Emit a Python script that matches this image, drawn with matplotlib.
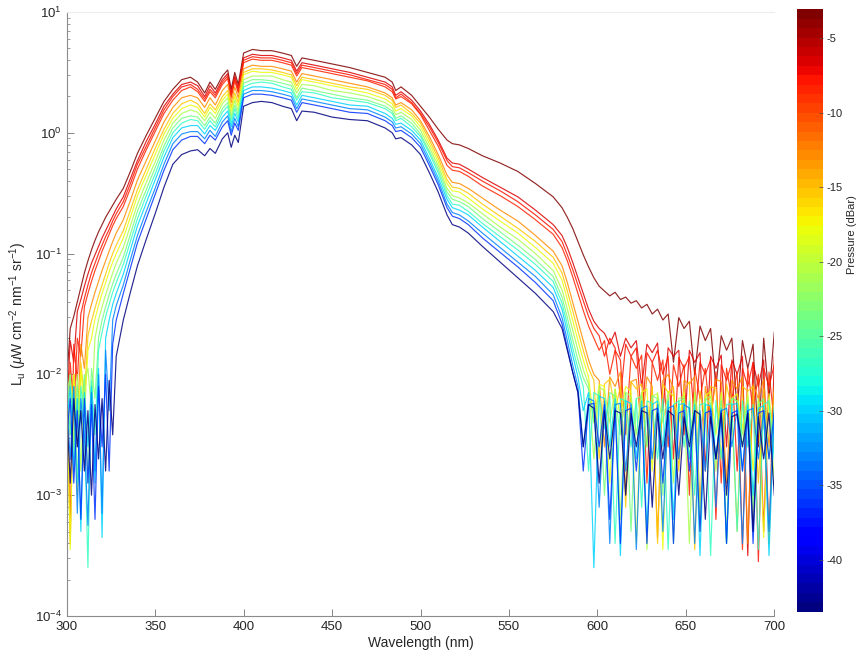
import numpy as np
import matplotlib
matplotlib.use('Agg')
import matplotlib.pyplot as plt
from matplotlib.colors import Normalize
from matplotlib.cm import ScalarMappable

plt.rcParams['font.family'] = ['Liberation Sans', 'DejaVu Sans']
plt.rcParams['mathtext.fontset'] = 'custom'
plt.rcParams['mathtext.rm'] = 'Liberation Sans'
plt.rcParams['mathtext.it'] = 'Liberation Sans:italic'
plt.rcParams['mathtext.bf'] = 'Liberation Sans:bold'
plt.rcParams['axes.unicode_minus'] = False

# ---------------- data (log10 of Lu) ----------------
WL_UV = list(range(300, 329, 2))
WL_VIS = [332, 336, 340, 345, 350, 355, 360, 365, 370, 374, 378, 381, 384, 388, 391, 393, 395, 397,
          400, 405, 410, 416, 422, 427, 430, 433, 440, 450, 460, 470, 480, 484, 486, 489, 495, 500,
          505, 510, 515, 518, 522, 527, 535, 545, 555, 565, 575]
WL_RED = list(range(580, 701, 3))

PRESSURE = [-3.1, -6.5, -7.5, -8.5, -13.0, -15.5, -18.0, -21.0, -23.5, -27.0, -30.0, -33.0, -36.0, -43.5]

lu_c00 = [-2.05, -1.62, -1.52, -1.40, -1.28, -1.16, -1.06, -0.97, -0.89, -0.82, -0.76, -0.70, -0.65, -0.60, -0.55,
          -0.46, -0.32, -0.17, -0.02, 0.12, 0.26, 0.36, 0.44, 0.46, 0.42, 0.33, 0.42, 0.36, 0.47, 0.52, 0.36, 0.50, 0.40,
          0.66, 0.69, 0.68, 0.68, 0.66, 0.64, 0.55, 0.62, 0.60, 0.57, 0.54, 0.50, 0.46, 0.42, 0.35, 0.38, 0.31, 0.22,
          0.13, 0.03, -0.06, -0.09, -0.10, -0.13, -0.19, -0.25, -0.32, -0.42, -0.53,
          -0.62, -0.70, -0.79, -0.90, -1.01, -1.11, -1.20, -1.27, -1.31, -1.35, -1.32, -1.38, -1.36, -1.41, -1.39,
          -1.45, -1.42, -1.50, -1.46, -1.55, -1.50, -1.90, -1.53, -1.62, -1.56, -2.00, -1.60, -1.72, -1.62, -2.10,
          -1.68, -1.80, -1.70, -2.30, -1.72, -1.95, -1.75, -2.60, -1.70, -2.20, -1.65]
lu_c01 = [-2.30, -1.72, -1.90, -1.48, -1.38, -1.27, -1.17, -1.08, -1.01, -0.94, -0.87, -0.81, -0.75, -0.69, -0.63,
          -0.53, -0.38, -0.23, -0.07, 0.07, 0.22, 0.32, 0.40, 0.42, 0.39, 0.30, 0.39, 0.33, 0.44, 0.49, 0.33, 0.47, 0.37,
          0.62, 0.65, 0.64, 0.64, 0.62, 0.60, 0.51, 0.58, 0.56, 0.53, 0.50, 0.46, 0.42, 0.38, 0.31, 0.34, 0.27, 0.18,
          0.07, -0.06, -0.21, -0.25, -0.26, -0.30, -0.37, -0.45, -0.53, -0.64, -0.76,
          -0.85, -0.95, -1.07, -1.20, -1.33, -1.46, -1.56, -1.62, -1.66, -1.75, -1.65, -1.85, -1.70, -1.78, -1.72,
          -2.10, -1.75, -1.82, -1.74, -2.30, -1.78, -1.85, -1.80, -2.50, -1.80, -1.90, -1.82, -2.80, -1.85, -1.95,
          -1.84, -2.60, -1.88, -2.00, -1.85, -3.50, -1.90, -2.10, -1.88, -3.40, -1.85]
lu_c02 = [-1.95, -3.30, -1.75, -2.05, -1.50, -1.37, -1.26, -1.16, -1.08, -1.00, -0.93, -0.86, -0.80, -0.73, -0.67,
          -0.57, -0.42, -0.26, -0.11, 0.04, 0.19, 0.30, 0.38, 0.40, 0.36, 0.28, 0.36, 0.31, 0.42, 0.47, 0.31, 0.45, 0.35,
          0.60, 0.63, 0.62, 0.62, 0.60, 0.58, 0.49, 0.56, 0.54, 0.51, 0.48, 0.44, 0.40, 0.36, 0.29, 0.32, 0.25, 0.16,
          0.05, -0.08, -0.23, -0.28, -0.29, -0.33, -0.40, -0.48, -0.57, -0.68, -0.80,
          -0.90, -1.01, -1.13, -1.26, -1.39, -1.52, -1.62, -1.68, -1.85, -1.70, -1.78, -2.20, -1.75, -1.85, -1.78,
          -2.40, -1.82, -1.90, -1.80, -2.00, -1.85, -2.70, -1.86, -1.95, -1.85, -2.40, -1.90, -2.00, -1.88, -3.20,
          -1.92, -2.05, -1.90, -2.80, -1.95, -2.10, -1.90, -3.55, -1.95, -2.10, -1.92]
lu_c03 = [-2.60, -1.90, -2.30, -1.70, -1.85, -1.44, -1.33, -1.23, -1.14, -1.06, -0.98, -0.91, -0.84, -0.77, -0.71,
          -0.61, -0.46, -0.30, -0.14, 0.01, 0.16, 0.27, 0.35, 0.38, 0.34, 0.26, 0.34, 0.29, 0.40, 0.45, 0.29, 0.43, 0.33,
          0.58, 0.61, 0.60, 0.60, 0.58, 0.56, 0.47, 0.54, 0.52, 0.49, 0.46, 0.43, 0.38, 0.34, 0.28, 0.30, 0.24, 0.15,
          0.02, -0.11, -0.27, -0.31, -0.32, -0.36, -0.44, -0.52, -0.61, -0.72, -0.84,
          -0.95, -1.06, -1.19, -1.33, -1.47, -1.60, -1.70, -1.80, -1.72, -2.00, -1.80, -1.88, -2.50, -1.85, -1.95,
          -1.84, -2.90, -1.90, -2.05, -1.88, -2.60, -1.92, -2.10, -1.92, -3.00, -1.95, -2.20, -1.95, -2.40, -1.98,
          -2.90, -1.95, -2.20, -1.98, -3.45, -1.95, -2.30, -2.00, -3.30, -1.98, -2.40]
lu_c04 = [-2.00, -3.40, -2.00, -2.40, -1.75, -1.95, -1.53, -1.42, -1.32, -1.23, -1.14, -1.06, -0.98, -0.90, -0.83,
          -0.72, -0.56, -0.39, -0.23, -0.07, 0.09, 0.21, 0.29, 0.31, 0.29, 0.21, 0.29, 0.23, 0.35, 0.40, 0.25, 0.38, 0.29,
          0.53, 0.56, 0.55, 0.55, 0.53, 0.51, 0.42, 0.49, 0.47, 0.44, 0.41, 0.38, 0.33, 0.29, 0.23, 0.25, 0.19, 0.10,
          -0.03, -0.18, -0.35, -0.41, -0.42, -0.46, -0.54, -0.64, -0.73, -0.85, -0.98,
          -1.10, -1.24, -1.40, -1.56, -1.72, -1.88, -2.00, -2.05, -2.60, -2.02, -2.10, -1.98, -3.00, -2.06, -2.04,
          -2.45, -2.02, -2.10, -3.35, -2.05, -2.00, -2.12, -2.70, -2.05, -2.08, -2.02, -3.10, -2.10, -2.35, -2.04,
          -2.06, -2.90, -2.05, -2.12, -2.02, -3.40, -2.08, -2.20, -2.04, -2.60, -2.10]
lu_c05 = [-1.95, -2.50, -2.00, -3.00, -1.90, -2.20, -1.68, -1.56, -1.45, -1.35, -1.26, -1.17, -1.08, -1.00, -0.93,
          -0.81, -0.64, -0.47, -0.30, -0.13, 0.03, 0.16, 0.24, 0.27, 0.24, 0.16, 0.24, 0.19, 0.30, 0.35, 0.21, 0.33, 0.25,
          0.50, 0.53, 0.53, 0.52, 0.50, 0.48, 0.39, 0.46, 0.44, 0.41, 0.38, 0.36, 0.31, 0.27, 0.21, 0.23, 0.16, 0.08,
          -0.06, -0.21, -0.39, -0.45, -0.46, -0.50, -0.59, -0.69, -0.79, -0.90, -1.03,
          -1.16, -1.31, -1.47, -1.64, -1.80, -1.95, -2.05, -2.70, -2.08, -2.04, -2.30, -2.10, -3.10, -2.06, -2.12,
          -2.08, -2.60, -2.10, -3.40, -2.08, -2.15, -2.10, -2.80, -2.12, -2.06, -3.45, -2.14, -2.40, -2.10, -2.12,
          -2.70, -2.08, -2.30, -3.30, -2.10, -2.14, -2.10, -2.90, -2.12, -3.40, -2.15]
lu_c06 = [-2.10, -3.45, -2.00, -2.60, -1.95, -2.35, -1.80, -1.70, -1.54, -1.43, -1.33, -1.24, -1.15, -1.07, -1.00,
          -0.87, -0.70, -0.52, -0.35, -0.18, -0.01, 0.12, 0.20, 0.23, 0.21, 0.13, 0.21, 0.16, 0.27, 0.32, 0.18, 0.30, 0.22,
          0.48, 0.51, 0.50, 0.50, 0.48, 0.46, 0.36, 0.44, 0.42, 0.39, 0.36, 0.33, 0.28, 0.24, 0.18, 0.20, 0.14, 0.05,
          -0.09, -0.24, -0.42, -0.48, -0.49, -0.54, -0.63, -0.73, -0.83, -0.95, -1.08,
          -1.22, -1.38, -1.55, -1.72, -1.88, -2.02, -2.40, -2.08, -2.10, -2.90, -2.12, -2.35, -2.10, -2.14, -3.40,
          -2.15, -2.12, -2.80, -2.15, -3.45, -2.14, -2.18, -2.40, -2.15, -2.70, -2.16, -3.30, -2.18, -2.14, -2.50,
          -2.15, -3.40, -2.20, -2.16, -2.45, -2.15, -2.80, -2.20, -3.35, -2.16, -2.60]
lu_c07 = [-2.20, -2.00, -2.60, -2.00, -2.80, -2.05, -1.95, -2.30, -1.70, -1.55, -1.44, -1.34, -1.25, -1.16, -1.08,
          -0.95, -0.77, -0.59, -0.41, -0.24, -0.06, 0.08, 0.16, 0.19, 0.17, 0.10, 0.17, 0.12, 0.24, 0.29, 0.14, 0.27, 0.18,
          0.44, 0.47, 0.47, 0.47, 0.44, 0.42, 0.33, 0.40, 0.39, 0.35, 0.33, 0.30, 0.25, 0.21, 0.15, 0.17, 0.11, 0.02,
          -0.12, -0.27, -0.46, -0.52, -0.54, -0.58, -0.67, -0.78, -0.88, -1.00, -1.14,
          -1.30, -1.46, -1.63, -1.80, -1.96, -2.08, -2.70, -2.10, -2.14, -2.40, -2.12, -3.20, -2.15, -2.18, -2.50,
          -2.15, -3.45, -2.18, -2.16, -2.40, -2.15, -2.90, -2.20, -2.18, -3.40, -2.15, -2.45, -2.20, -2.18, -2.80,
          -2.18, -3.35, -2.20, -2.22, -2.50, -2.18, -3.30, -2.20, -2.45, -2.20, -2.90]
lu_c08 = [-2.30, -2.00, -2.70, -2.10, -2.40, -2.00, -2.90, -1.95, -2.20, -1.70, -1.55, -1.44, -1.34, -1.25, -1.17,
          -1.03, -0.84, -0.65, -0.47, -0.29, -0.11, 0.04, 0.12, 0.14, 0.13, 0.06, 0.13, 0.08, 0.20, 0.25, 0.11, 0.23, 0.15,
          0.41, 0.44, 0.44, 0.43, 0.41, 0.39, 0.29, 0.37, 0.35, 0.32, 0.29, 0.27, 0.22, 0.18, 0.12, 0.14, 0.08, -0.01,
          -0.15, -0.30, -0.49, -0.55, -0.57, -0.61, -0.71, -0.82, -0.93, -1.05, -1.19,
          -1.36, -1.53, -1.71, -1.88, -2.03, -2.12, -2.40, -2.14, -3.00, -2.15, -2.18, -2.50, -2.15, -3.30, -2.20,
          -2.18, -2.60, -2.18, -2.20, -3.00, -2.20, -3.40, -2.22, -2.20, -2.55, -2.22, -3.20, -2.20, -2.24, -2.70,
          -2.22, -3.40, -2.20, -2.22, -2.60, -2.22, -3.10, -2.25, -2.20, -2.70, -2.25]
lu_c09 = [-2.00, -2.50, -2.10, -2.90, -2.10, -2.40, -3.60, -2.05, -2.50, -1.80, -1.65, -1.52, -1.42, -1.32, -1.24,
          -1.09, -0.90, -0.71, -0.52, -0.34, -0.15, 0.00, 0.08, 0.11, 0.10, 0.03, 0.10, 0.05, 0.17, 0.22, 0.08, 0.20, 0.12,
          0.38, 0.41, 0.42, 0.41, 0.38, 0.36, 0.27, 0.34, 0.33, 0.29, 0.27, 0.25, 0.20, 0.16, 0.10, 0.12, 0.05, -0.03,
          -0.17, -0.33, -0.52, -0.59, -0.60, -0.65, -0.75, -0.86, -0.97, -1.09, -1.23,
          -1.41, -1.59, -1.78, -1.95, -2.10, -2.80, -2.15, -2.18, -2.45, -2.18, -3.40, -2.20, -2.22, -2.60, -2.20,
          -3.10, -2.22, -2.24, -2.70, -2.20, -3.45, -2.25, -2.22, -2.60, -2.22, -3.00, -2.25, -2.24, -3.50, -2.22,
          -2.70, -2.25, -2.24, -3.30, -2.22, -2.60, -2.25, -3.45, -2.25, -2.22, -2.70]
lu_c10 = [-2.40, -2.10, -2.80, -2.20, -3.30, -2.15, -2.60, -2.10, -2.90, -1.95, -3.35, -1.70, -1.55, -1.42, -1.33,
          -1.17, -0.97, -0.77, -0.58, -0.39, -0.20, -0.04, 0.04, 0.06, 0.06, -0.01, 0.06, 0.02, 0.13, 0.18, 0.05, 0.16, 0.09,
          0.35, 0.38, 0.38, 0.37, 0.35, 0.33, 0.23, 0.31, 0.29, 0.26, 0.23, 0.22, 0.16, 0.12, 0.07, 0.08, 0.02, -0.06,
          -0.21, -0.37, -0.55, -0.62, -0.64, -0.68, -0.78, -0.90, -1.02, -1.14, -1.28,
          -1.46, -1.65, -1.84, -2.02, -2.30, -2.15, -3.60, -2.18, -2.20, -2.60, -2.20, -3.50, -2.22, -2.24, -2.70,
          -2.22, -3.30, -2.25, -2.22, -2.60, -2.22, -3.20, -2.25, -2.24, -2.70, -2.25, -3.50, -2.25, -2.26, -2.70,
          -2.28, -3.40, -2.25, -2.24, -2.80, -2.25, -3.00, -2.28, -2.26, -3.50, -2.28]
lu_c11 = [-2.20, -2.70, -2.10, -3.15, -2.20, -2.50, -3.25, -2.15, -2.80, -2.00, -3.15, -1.80, -2.30, -1.55, -1.43,
          -1.26, -1.05, -0.85, -0.65, -0.46, -0.26, -0.09, -0.01, 0.01, 0.01, -0.05, 0.02, -0.03, 0.09, 0.14, 0.01, 0.12, 0.05,
          0.32, 0.35, 0.35, 0.34, 0.32, 0.30, 0.20, 0.28, 0.26, 0.23, 0.20, 0.19, 0.13, 0.09, 0.04, 0.05, -0.01, -0.09,
          -0.24, -0.40, -0.59, -0.66, -0.68, -0.73, -0.83, -0.95, -1.07, -1.19, -1.34,
          -1.53, -1.72, -1.92, -2.10, -2.60, -2.20, -2.22, -3.10, -2.22, -3.40, -2.25, -2.24, -2.80, -2.25, -3.45,
          -2.28, -2.26, -2.70, -2.25, -3.30, -2.28, -2.26, -2.70, -2.25, -2.28, -3.40, -2.30, -2.80, -2.28, -3.10,
          -2.30, -2.28, -2.60, -2.28, -3.40, -2.30, -2.28, -2.70, -2.30, -3.30, -2.30]
lu_c12 = [-2.50, -2.20, -2.90, -2.30, -3.20, -2.20, -2.90, -2.25, -3.20, -2.10, -2.60, -2.00, -2.80, -1.75, -1.55,
          -1.33, -1.12, -0.91, -0.71, -0.51, -0.31, -0.14, -0.06, -0.03, -0.03, -0.09, -0.02, -0.06, 0.05, 0.10, -0.02, 0.08, 0.02,
          0.29, 0.32, 0.32, 0.31, 0.29, 0.27, 0.17, 0.25, 0.23, 0.20, 0.17, 0.16, 0.10, 0.06, 0.01, 0.02, -0.04, -0.12,
          -0.27, -0.43, -0.62, -0.69, -0.71, -0.76, -0.87, -0.99, -1.11, -1.24, -1.39,
          -1.58, -1.78, -1.98, -2.15, -2.80, -2.25, -2.24, -2.60, -2.25, -3.20, -2.28, -3.40, -2.30, -2.28, -2.80,
          -2.28, -3.40, -2.30, -2.28, -2.90, -2.30, -3.40, -2.32, -2.30, -2.80, -2.30, -3.30, -2.32, -2.30, -2.70,
          -2.30, -3.40, -2.32, -2.30, -2.80, -2.30, -3.40, -2.32, -2.30, -2.70, -2.32]
lu_c13 = [-2.30, -2.90, -2.20, -2.60, -2.30, -2.80, -2.30, -3.00, -2.25, -2.70, -2.20, -2.80, -2.05, -2.50, -1.85,
          -1.55, -1.32, -1.10, -0.88, -0.67, -0.45, -0.26, -0.18, -0.15, -0.14, -0.19, -0.13, -0.17, -0.05, 0.00, -0.12, -0.02, -0.08,
          0.22, 0.25, 0.26, 0.25, 0.22, 0.20, 0.10, 0.18, 0.17, 0.13, 0.11, 0.10, 0.04, 0.00, -0.05, -0.04, -0.10, -0.18,
          -0.33, -0.49, -0.68, -0.76, -0.78, -0.83, -0.94, -1.07, -1.20, -1.33, -1.48,
          -1.62, -1.80, -1.98, -2.15, -2.60, -2.25, -2.28, -2.90, -2.30, -2.70, -2.30, -2.32, -3.00, -2.32, -2.60,
          -2.30, -2.32, -3.10, -2.32, -2.70, -2.30, -2.34, -3.00, -2.35, -2.60, -2.30, -2.33, -3.20, -2.35, -2.70,
          -2.32, -3.00, -2.35, -2.33, -2.60, -2.32, -3.30, -2.35, -2.70, -2.32, -3.00]

CURVES = [lu_c00, lu_c01, lu_c02, lu_c03, lu_c04, lu_c05, lu_c06,
          lu_c07, lu_c08, lu_c09, lu_c10, lu_c11, lu_c12, lu_c13]

X_TICKS = [300, 350, 400, 450, 500, 550, 600, 650, 700]
CB_TICKS = [-40, -35, -30, -25, -20, -15, -10, -5]
P_MIN, P_MAX = -43.47, -3.05

# ---------------- figure ----------------
W, H = 861, 654
fig = plt.figure(figsize=(W / 100, H / 100), dpi=100)
ax = fig.add_axes([66.7 / W, 1 - 616 / H, 707.6 / W, 604 / H])

cmap = matplotlib.colormaps['jet'].resampled(64)
norm = Normalize(vmin=P_MIN, vmax=P_MAX)

wl = np.array(WL_UV + WL_VIS + WL_RED, dtype=float)
for p, vals in zip(PRESSURE, CURVES):
    ax.plot(wl, 10 ** np.asarray(vals), color=cmap(norm(p)), lw=0.85, alpha=0.85)

ax.set_yscale('log')
ax.set_ylim(1e-4, 1e1)
ax.set_xlim(300, 700)
ax.set_xticks(X_TICKS)
ax.tick_params(which='major', direction='in', length=5, width=0.6, color='0.45',
               labelcolor='0.15', labelsize=9.5)
ax.tick_params(which='minor', direction='in', length=2.5, width=0.5, color='0.45')
ax.tick_params(axis='x', which='minor', bottom=False)
for s in ('left', 'bottom'):
    ax.spines[s].set_color('0.55')
    ax.spines[s].set_linewidth(0.8)
ax.spines['top'].set_color('0.93')
ax.spines['top'].set_linewidth(0.8)
ax.spines['right'].set_visible(False)

ax.set_xlabel('Wavelength (nm)', fontsize=10, color='0.15', labelpad=2)
ax.set_ylabel(r'L$_\mathregular{u}$ ($\mu$W cm$^{-2}$ nm$^{-1}$ sr$^{-1}$)', fontsize=10, color='0.15', labelpad=4)

cax = fig.add_axes([796.7 / W, 1 - 611.7 / H, 26 / W, 602.4 / H])
cb = fig.colorbar(ScalarMappable(norm=norm, cmap=cmap), cax=cax)
cb.set_ticks(CB_TICKS)
cb.outline.set_visible(False)
cax.tick_params(direction='in', length=3, width=0.5, color='0.3', labelsize=8, labelcolor='0.15', pad=3)
fig.text(852 / W, 1 - 235 / H, 'Pressure (dBar)', rotation=90, ha='center', va='center',
         fontsize=8, color='0.15')

fig.savefig('out.png', dpi=100)
